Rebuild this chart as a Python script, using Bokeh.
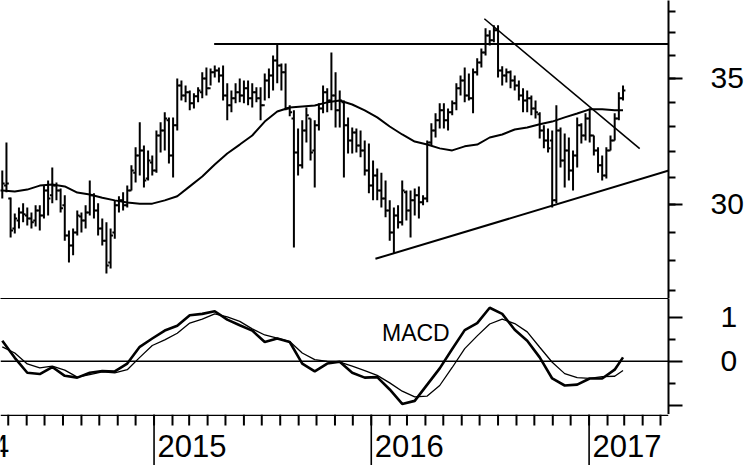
import pandas as pd
from bokeh.plotting import figure
from bokeh.models import Range1d, FixedTicker, LinearAxis, Span, ColumnDataSource
from bokeh.layouts import column
from bokeh.embed import file_html
from bokeh.resources import INLINE
from bokeh.core.properties import value

# ---------------- data (weekly bars) ----------------
first_week = "2014-04-21"

high = [31.27, 32.36, 30.26, 29.67, 29.89, 30.04, 29.89, 29.71, 29.97, 29.97,
        30.70, 30.89, 31.39, 30.82, 30.59, 30.34, 29.06, 29.13, 29.78, 29.71,
        29.97, 30.89, 30.41, 30.04, 29.49, 29.35, 29.13, 30.15, 30.30, 30.45,
        30.70, 31.47, 32.17, 33.17, 32.24, 32.05, 31.85, 32.84, 33.17, 33.58,
        33.37, 33.37, 35.00, 34.91, 34.70, 34.49, 34.37, 34.62, 35.26, 35.47,
        35.43, 35.56, 35.47, 35.56, 34.79, 34.49, 34.79, 35.00, 34.91, 34.91,
        34.79, 34.62, 34.62, 35.21, 35.43, 36.00, 36.49, 35.65, 35.65, 33.87,
        33.66, 32.92, 33.25, 33.78, 33.33, 33.25, 33.95, 34.70, 34.58, 36.13,
        35.26, 34.49, 34.07, 33.37, 32.96, 32.92, 32.84, 32.44, 32.32, 31.66,
        31.35, 31.19, 30.89, 30.15, 29.89, 29.97, 30.89, 30.52, 30.52, 30.59,
        30.67, 30.34, 32.44, 33.13, 33.54, 33.95, 33.95, 33.74, 34.07, 34.79,
        35.13, 35.47, 35.21, 35.43, 35.87, 36.31, 37.21, 37.12, 37.35, 37.35,
        35.52, 35.43, 35.34, 35.13, 34.91, 34.58, 34.49, 34.28, 34.07, 33.58,
        33.05, 32.92, 32.84, 33.87, 32.96, 32.72, 32.56, 32.05, 33.37, 33.13,
        33.54, 33.74, 32.64, 32.17, 31.85, 32.17, 32.64, 33.54, 34.41, 34.70]

low = [30.22, 30.45, 28.81, 28.95, 29.13, 29.35, 29.24, 29.13, 29.20, 29.06,
       29.49, 29.60, 30.04, 30.15, 29.71, 28.70, 27.94, 28.19, 28.88, 28.99,
       29.13, 29.60, 29.49, 28.88, 28.53, 27.57, 27.74, 28.77, 29.71, 29.78,
       29.89, 30.52, 30.82, 31.08, 30.63, 30.89, 31.08, 31.19, 31.97, 32.05,
       31.54, 31.01, 32.84, 34.07, 33.99, 33.66, 33.74, 33.99, 34.16, 34.28,
       34.70, 35.04, 34.83, 34.07, 33.25, 33.58, 33.95, 33.99, 33.95, 33.87,
       33.78, 33.99, 33.25, 34.07, 34.16, 34.49, 34.79, 34.49, 33.66, 33.42,
       28.46, 31.08, 31.35, 32.36, 31.66, 30.63, 32.84, 33.54, 33.58, 33.66,
       32.96, 32.96, 31.01, 31.93, 31.93, 31.97, 31.78, 31.08, 30.41, 30.15,
       30.15, 29.89, 29.53, 28.70, 28.25, 29.13, 29.24, 29.42, 28.81, 29.60,
       29.49, 29.97, 30.08, 32.24, 32.56, 32.92, 32.92, 32.84, 33.46, 33.66,
       34.28, 33.99, 34.07, 33.54, 35.13, 35.47, 36.00, 36.44, 36.58, 35.04,
       34.70, 34.83, 34.58, 34.49, 34.07, 33.58, 33.58, 33.46, 33.33, 32.52,
       32.13, 31.97, 29.89, 30.04, 31.39, 30.63, 30.89, 30.52, 31.39, 32.32,
       32.44, 32.36, 31.85, 31.19, 30.89, 30.97, 32.05, 32.44, 33.25, 34.07]

open_ = [30.52, 30.70, 30.22, 29.13, 29.42, 29.71, 29.60, 29.49, 29.42, 29.78,
         29.60, 30.52, 30.34, 30.70, 30.52, 29.97, 28.88, 28.53, 28.99, 29.56,
         29.42, 29.71, 30.34, 29.78, 29.13, 28.70, 27.94, 28.99, 29.97, 30.15,
         29.97, 30.52, 31.19, 31.85, 32.05, 30.97, 31.58, 31.27, 32.64, 32.84,
         33.25, 31.85, 33.05, 34.70, 34.28, 34.41, 33.95, 34.24, 34.41, 35.00,
         34.58, 35.26, 35.34, 35.13, 34.28, 33.87, 34.16, 34.41, 34.28, 34.58,
         34.16, 34.41, 34.16, 33.87, 34.91, 35.13, 35.78, 35.56, 35.26, 33.74,
         33.33, 31.97, 31.47, 32.84, 33.33, 32.05, 33.05, 33.74, 34.41, 34.07,
         34.28, 33.66, 33.99, 33.05, 32.44, 32.76, 32.24, 32.05, 31.27, 30.70,
         31.08, 30.52, 30.22, 29.78, 28.99, 29.60, 29.35, 30.45, 29.78, 30.15,
         30.34, 30.08, 30.22, 32.36, 32.84, 33.25, 33.66, 33.25, 33.58, 33.95,
         34.58, 34.91, 34.28, 34.16, 35.26, 35.69, 36.13, 36.89, 36.67, 37.12,
         35.34, 35.13, 35.26, 34.91, 34.70, 34.28, 34.07, 34.16, 33.74, 33.50,
         32.84, 32.44, 32.44, 30.15, 32.84, 31.66, 32.05, 31.27, 31.85, 33.05,
         32.64, 33.33, 32.64, 32.05, 31.47, 31.08, 32.05, 32.44, 33.33, 34.16]

close = [30.78, 30.78, 29.06, 29.49, 29.71, 29.64, 29.49, 29.35, 29.78, 29.60,
         30.52, 30.22, 30.70, 30.52, 29.86, 28.88, 28.53, 28.99, 29.60, 29.42,
         29.71, 30.34, 29.78, 29.13, 28.70, 27.84, 28.88, 29.97, 30.15, 29.97,
         30.52, 31.27, 31.85, 32.05, 30.89, 31.66, 31.27, 32.64, 32.84, 33.33,
         31.85, 33.05, 34.70, 34.28, 34.41, 33.95, 34.24, 34.49, 35.00, 34.58,
         35.26, 35.34, 35.13, 34.28, 33.87, 34.16, 34.41, 34.28, 34.58, 34.16,
         34.41, 34.16, 33.87, 34.91, 35.13, 35.78, 35.56, 35.26, 33.74, 33.58,
         31.97, 31.47, 32.84, 33.46, 31.97, 33.05, 33.74, 34.41, 34.07, 34.28,
         33.66, 34.07, 33.05, 32.44, 32.76, 32.24, 32.05, 31.27, 30.70, 31.08,
         30.52, 30.22, 29.78, 28.99, 29.60, 29.35, 30.52, 29.78, 30.15, 30.34,
         30.08, 30.22, 32.36, 32.84, 33.25, 33.66, 33.25, 33.58, 33.95, 34.58,
         34.91, 34.28, 34.16, 35.26, 35.69, 36.13, 36.89, 36.67, 37.12, 35.34,
         35.13, 35.26, 34.91, 34.70, 34.28, 34.07, 34.16, 33.74, 33.58, 32.84,
         32.44, 32.13, 30.15, 32.84, 31.66, 32.05, 31.27, 31.85, 33.05, 32.64,
         33.33, 32.64, 32.05, 31.47, 31.08, 32.05, 32.44, 33.33, 34.16, 34.49]

# moving average, MACD and signal, read every third week (plus the last week)
moving_avg = [30.52, 30.48, 30.55, 30.70, 30.74, 30.67, 30.44, 30.37, 30.25, 30.15,
              30.07, 30.03, 30.03, 30.15, 30.30, 30.67, 31.04, 31.50, 31.93, 32.28,
              32.64, 33.20, 33.61, 33.78, 33.82, 33.86, 33.99, 34.07, 33.90, 33.66,
              33.37, 33.00, 32.68, 32.40, 32.28, 32.13, 32.05, 32.21, 32.28, 32.56,
              32.68, 32.88, 32.96, 33.09, 33.20, 33.37, 33.53, 33.70, 33.70, 33.66,
              33.66]

macd = [0.47, 0.08, -0.26, -0.29, -0.13, -0.33, -0.37, -0.26, -0.22, -0.23,
        -0.05, 0.33, 0.52, 0.70, 0.81, 1.05, 1.08, 1.14, 0.95, 0.82,
        0.70, 0.44, 0.52, 0.44, -0.05, -0.23, -0.05, -0.01, -0.26, -0.37,
        -0.36, -0.64, -0.97, -0.90, -0.53, -0.16, 0.28, 0.71, 0.87, 1.22,
        1.08, 0.72, 0.47, 0.09, -0.39, -0.55, -0.53, -0.39, -0.39, -0.19,
        0.09]

signal = [0.33, 0.19, -0.06, -0.15, -0.11, -0.20, -0.36, -0.30, -0.24, -0.26,
          -0.19, 0.09, 0.36, 0.49, 0.64, 0.87, 0.96, 1.08, 1.01, 0.91,
          0.74, 0.60, 0.53, 0.45, 0.19, 0.04, 0.00, -0.02, -0.11, -0.21,
          -0.32, -0.49, -0.68, -0.81, -0.79, -0.55, -0.14, 0.29, 0.58, 0.85,
          0.96, 0.86, 0.67, 0.32, -0.02, -0.28, -0.37, -0.39, -0.35, -0.34,
          -0.21]

# drawn trend lines (start/end date and price)
resistance_dates = ["2015-04-12", "2017-05-15"]
resistance_prices = [36.5, 36.5]
downtrend_dates = ["2016-07-09", "2017-03-27"]
downtrend_prices = [37.65, 32.12]
support_dates = ["2016-01-08", "2017-05-15"]
support_prices = [28.07, 31.27]

price_ticks = [30, 35]
price_minor_ticks = [27, 28, 29, 30, 31, 32, 33, 34, 35, 36, 37, 38]
macd_ticks = [-1, 0, 1]
macd_minor_ticks = [-0.5, 0.5]
year_starts = ["2014-01-01", "2015-01-01", "2016-01-01", "2017-01-01"]
year_labels = ["2014", "2015", "2016", "2017"]

# ---------------- build ----------------
FONT = value("Liberation Sans")
dates = pd.date_range(first_week, periods=len(high), freq="7D")
sample_idx = list(range(0, len(high), 3)) + [len(high) - 1]
sample_dates = dates[sample_idx]

x_range = Range1d(pd.Timestamp("2014-04-18"), pd.Timestamp("2017-05-14 10:00"))
FW = 668
RB = 84


def base(frame_h, y_range, **kw):
    p = figure(frame_width=FW, frame_height=frame_h, x_range=x_range, y_range=y_range,
               output_backend="svg", toolbar_location=None, tools="",
               min_border_left=0, min_border_top=0, min_border_bottom=0,
               min_border_right=RB, **kw)
    p.outline_line_color = None
    p.xgrid.visible = False
    p.ygrid.visible = False
    p.background_fill_color = "white"
    p.border_fill_color = "white"
    return p


def style_right_axis(ax, standoff):
    ax.axis_line_width = 2
    ax.major_tick_line_width = 2
    ax.minor_tick_line_width = 2
    ax.major_tick_out = 14
    ax.major_tick_in = 0
    ax.minor_tick_out = 7
    ax.minor_tick_in = 0
    ax.major_label_standoff = standoff
    ax.major_label_text_font = "Liberation Sans"
    ax.major_label_text_font_size = "30px"
    ax.major_label_text_color = "black"


# ---- price panel ----
p1 = base(298, Range1d(26.74, 38.5), y_axis_type="log", x_axis_location=None,
          y_axis_location="right")
ax = p1.yaxis[0]
ax.ticker = FixedTicker(ticks=price_ticks, minor_ticks=price_minor_ticks)
ax.major_label_overrides = {t: str(t) for t in price_ticks}
style_right_axis(ax, 28)

tick = pd.Timedelta(days=4)
src = ColumnDataSource(dict(date=dates, high=high, low=low, open=open_, close=close,
                            date_l=dates - tick, date_r=dates + tick))
p1.segment(x0="date", y0="low", x1="date", y1="high", source=src,
           line_color="black", line_width=2)
p1.segment(x0="date_l", y0="open", x1="date", y1="open", source=src,
           line_color="black", line_width=2)
p1.segment(x0="date", y0="close", x1="date_r", y1="close", source=src,
           line_color="black", line_width=2)
p1.line(sample_dates, moving_avg, line_color="black", line_width=2)
p1.line(pd.to_datetime(resistance_dates), resistance_prices, line_color="black", line_width=2)
p1.line(pd.to_datetime(downtrend_dates), downtrend_prices, line_color="black", line_width=1.6)
p1.line(pd.to_datetime(support_dates), support_prices, line_color="black", line_width=2)

# ---- MACD panel ----
p2 = base(116, Range1d(-1.21, 1.43), y_axis_location="right", x_axis_location=None)
ay = p2.yaxis[0]
ay.ticker = FixedTicker(ticks=macd_ticks, minor_ticks=macd_minor_ticks)
ay.major_label_overrides = {-1: "", 0: "0", 1: "1"}
style_right_axis(ay, 38)
p2.add_layout(LinearAxis(ticker=FixedTicker(ticks=[]), major_tick_line_color=None,
                         minor_tick_line_color=None, major_label_text_color=None,
                         major_label_standoff=0, axis_line_width=1.2), "above")

p2.add_layout(Span(location=0, dimension="width", line_color="black", line_width=1.5))
p2.line(sample_dates, signal, line_color="black", line_width=1.3)
p2.line(sample_dates, macd, line_color="black", line_width=2.6)
p2.text(x=[pd.Timestamp("2016-01-19")], y=[0.64], text=["MACD"], text_font=FONT,
        text_font_size="23px", text_baseline="alphabetic", text_align="left",
        text_color="black")

# ---- date axis strip (y measured in pixels down from the axis line) ----
month_starts = pd.date_range("2014-01-01", "2017-12-01", freq="MS")
p3 = base(51, Range1d(51, 0), x_axis_location=None, y_axis_location=None)
p3.add_layout(Span(location=0.7, dimension="width", line_color="black", line_width=1.4))
msrc = ColumnDataSource(dict(x=month_starts))
p3.segment(x0="x", y0=0, x1="x", y1=11, source=msrc, line_color="black", line_width=2)
ysrc = ColumnDataSource(dict(x=pd.to_datetime(year_starts), label=year_labels))
p3.segment(x0="x", y0=0, x1="x", y1=60, source=ysrc, line_color="black", line_width=1.6)
p3.text(x="x", y=31, text="label", source=ysrc, x_offset=3.5, text_font=FONT,
        text_font_size="31px", text_baseline="alphabetic", text_align="left",
        text_color="black")

layout = column(p1, p2, p3)
open("out.html", "w").write(file_html(layout, INLINE))
